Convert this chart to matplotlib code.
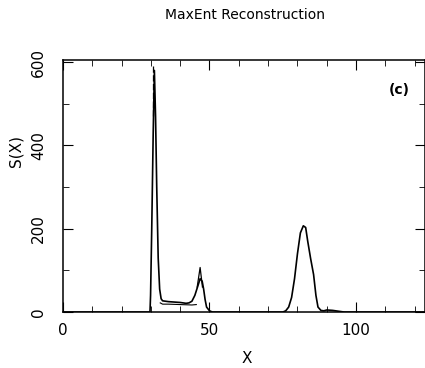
import matplotlib
matplotlib.use('Agg')
import matplotlib.pyplot as plt
from matplotlib.ticker import MultipleLocator

# reconstruction (solid curve)
recon_x = [0, 29.0, 29.7, 29.9, 30.3, 30.8, 31.2, 31.6, 32.0, 32.5, 33.0, 33.5, 34.0,
           36, 38, 40, 42, 43, 44, 45, 46, 46.8, 47.5, 48, 48.5, 49, 50, 51,
           75, 76, 77, 78, 79, 80, 81, 82, 82.8, 83.5, 84.5, 85.5, 86.3, 87, 88,
           89, 90, 92, 94, 96, 128]
recon_y = [0, 0, 0, 40, 200, 430, 580, 470, 300, 130, 55, 32, 27,
           25, 24, 23, 21, 22, 26, 40, 62, 80, 74, 55, 30, 12, 3, 0,
           0, 3, 12, 35, 80, 140, 190, 207, 203, 170, 128, 90, 40, 12, 4,
           3, 5, 4, 2, 0, 0]

# thin input line (spike tops + plateau)
true_x = [30.9, 30.9]
true_y = [470, 595]
spike2_x = [45.8, 46.8, 47.6]
spike2_y = [60, 107, 60]
plat_x = [33.2, 34, 36, 40, 44, 45.5]
plat_y = [22, 19, 19, 18, 17, 18]

fig = plt.figure(figsize=(4.25, 3.68), dpi=100)
ax = fig.add_axes([0.148, 0.152, 0.852, 0.685])

ax.plot(recon_x, recon_y, color='black', lw=1.2)
ax.plot(true_x, true_y, color='black', lw=0.9, ls=(0, (5, 2)))
ax.plot(spike2_x, spike2_y, color='black', lw=0.9)
ax.plot(plat_x, plat_y, color='black', lw=0.8)

ax.set_xlim(0, 123.5)
ax.set_ylim(0, 605)
ax.xaxis.set_major_locator(MultipleLocator(50))
ax.xaxis.set_minor_locator(MultipleLocator(10))
ax.yaxis.set_major_locator(MultipleLocator(200))
ax.yaxis.set_minor_locator(MultipleLocator(100))
ax.tick_params(which='both', direction='in', top=True, right=True, labelsize=11)
ax.tick_params(which='major', length=7)
ax.tick_params(which='minor', length=4)
ax.tick_params(axis='x', pad=8)
ax.tick_params(axis='y', pad=12)
for lab in ax.get_yticklabels():
    lab.set_rotation(90)
    lab.set_va('center')
for s in ax.spines.values():
    s.set_linewidth(1.1)

fig.text(0.58, 0.027, 'X', ha='center', va='center', fontsize=11)
ax.set_ylabel('S(X)', fontsize=11)
ax.yaxis.set_label_coords(-0.11, 0.64)
ax.text(0.93, 0.88, '(c)', transform=ax.transAxes, fontsize=10, fontweight='bold',
        ha='center', va='center')
fig.text(0.577, 0.96, 'MaxEnt Reconstruction', ha='center', va='center', fontsize=10)

fig.savefig('out.png', dpi=100)
